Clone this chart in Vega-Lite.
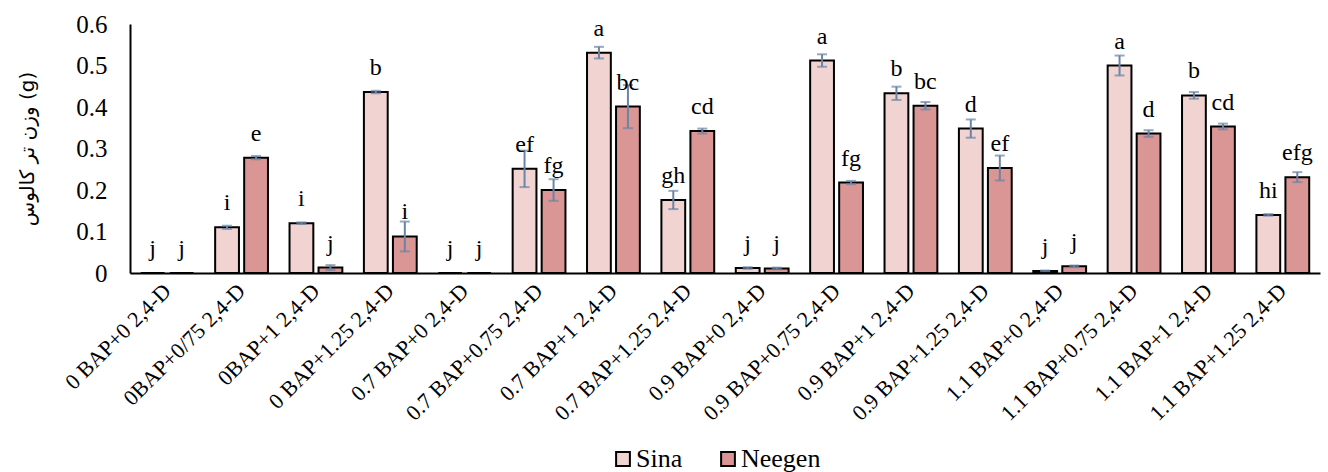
{
  "$schema": "https://vega.github.io/schema/vega-lite/v6.json",
  "width": 1190,
  "height": 249,
  "autosize": "none",
  "padding": {"left": 130, "top": 24, "right": 8, "bottom": 199},
  "background": "white",
  "config": {
    "view": {"stroke": null},
    "font": "Liberation Serif, Times New Roman, serif"
  },
  "data": {
    "values": [
      {"cat": "0 BAP+0 2,4-D", "cultivar": "Sina", "val": 0, "lo": null, "hi": null, "letter": "j"},
      {"cat": "0 BAP+0 2,4-D", "cultivar": "Neegen", "val": 0, "lo": null, "hi": null, "letter": "j"},
      {"cat": "0BAP+0/75 2,4-D", "cultivar": "Sina", "val": 0.110, "lo": 0.106, "hi": 0.114, "letter": "i"},
      {"cat": "0BAP+0/75 2,4-D", "cultivar": "Neegen", "val": 0.278, "lo": 0.274, "hi": 0.282, "letter": "e"},
      {"cat": "0BAP+1 2,4-D", "cultivar": "Sina", "val": 0.120, "lo": 0.118, "hi": 0.122, "letter": "i"},
      {"cat": "0BAP+1 2,4-D", "cultivar": "Neegen", "val": 0.013, "lo": 0.007, "hi": 0.019, "letter": "j"},
      {"cat": "0 BAP+1.25 2,4-D", "cultivar": "Sina", "val": 0.436, "lo": 0.433, "hi": 0.439, "letter": "b"},
      {"cat": "0 BAP+1.25 2,4-D", "cultivar": "Neegen", "val": 0.088, "lo": 0.052, "hi": 0.124, "letter": "i"},
      {"cat": "0.7 BAP+0 2,4-D", "cultivar": "Sina", "val": 0, "lo": null, "hi": null, "letter": "j"},
      {"cat": "0.7 BAP+0 2,4-D", "cultivar": "Neegen", "val": 0, "lo": null, "hi": null, "letter": "j"},
      {"cat": "0.7 BAP+0.75 2,4-D", "cultivar": "Sina", "val": 0.251, "lo": 0.207, "hi": 0.295, "letter": "ef"},
      {"cat": "0.7 BAP+0.75 2,4-D", "cultivar": "Neegen", "val": 0.200, "lo": 0.174, "hi": 0.226, "letter": "fg"},
      {"cat": "0.7 BAP+1 2,4-D", "cultivar": "Sina", "val": 0.531, "lo": 0.517, "hi": 0.545, "letter": "a"},
      {"cat": "0.7 BAP+1 2,4-D", "cultivar": "Neegen", "val": 0.401, "lo": 0.349, "hi": 0.453, "letter": "bc"},
      {"cat": "0.7 BAP+1.25 2,4-D", "cultivar": "Sina", "val": 0.176, "lo": 0.154, "hi": 0.198, "letter": "gh"},
      {"cat": "0.7 BAP+1.25 2,4-D", "cultivar": "Neegen", "val": 0.342, "lo": 0.336, "hi": 0.348, "letter": "cd"},
      {"cat": "0.9 BAP+0 2,4-D", "cultivar": "Sina", "val": 0.012, "lo": 0.010, "hi": 0.014, "letter": "j"},
      {"cat": "0.9 BAP+0 2,4-D", "cultivar": "Neegen", "val": 0.011, "lo": 0.009, "hi": 0.013, "letter": "j"},
      {"cat": "0.9 BAP+0.75 2,4-D", "cultivar": "Sina", "val": 0.512, "lo": 0.497, "hi": 0.527, "letter": "a"},
      {"cat": "0.9 BAP+0.75 2,4-D", "cultivar": "Neegen", "val": 0.218, "lo": 0.214, "hi": 0.222, "letter": "fg"},
      {"cat": "0.9 BAP+1 2,4-D", "cultivar": "Sina", "val": 0.433, "lo": 0.417, "hi": 0.449, "letter": "b"},
      {"cat": "0.9 BAP+1 2,4-D", "cultivar": "Neegen", "val": 0.403, "lo": 0.394, "hi": 0.412, "letter": "bc"},
      {"cat": "0.9 BAP+1.25 2,4-D", "cultivar": "Sina", "val": 0.348, "lo": 0.326, "hi": 0.370, "letter": "d"},
      {"cat": "0.9 BAP+1.25 2,4-D", "cultivar": "Neegen", "val": 0.253, "lo": 0.223, "hi": 0.283, "letter": "ef"},
      {"cat": "1.1 BAP+0 2,4-D", "cultivar": "Sina", "val": 0.005, "lo": 0.004, "hi": 0.006, "letter": "j"},
      {"cat": "1.1 BAP+0 2,4-D", "cultivar": "Neegen", "val": 0.016, "lo": 0.014, "hi": 0.018, "letter": "j"},
      {"cat": "1.1 BAP+0.75 2,4-D", "cultivar": "Sina", "val": 0.500, "lo": 0.476, "hi": 0.524, "letter": "a"},
      {"cat": "1.1 BAP+0.75 2,4-D", "cultivar": "Neegen", "val": 0.336, "lo": 0.328, "hi": 0.344, "letter": "d"},
      {"cat": "1.1 BAP+1 2,4-D", "cultivar": "Sina", "val": 0.428, "lo": 0.420, "hi": 0.436, "letter": "b"},
      {"cat": "1.1 BAP+1 2,4-D", "cultivar": "Neegen", "val": 0.353, "lo": 0.346, "hi": 0.360, "letter": "cd"},
      {"cat": "1.1 BAP+1.25 2,4-D", "cultivar": "Sina", "val": 0.140, "lo": 0.138, "hi": 0.142, "letter": "hi"},
      {"cat": "1.1 BAP+1.25 2,4-D", "cultivar": "Neegen", "val": 0.231, "lo": 0.219, "hi": 0.243, "letter": "efg"}
    ]
  },
  "encoding": {
    "x": {
      "field": "cat",
      "type": "nominal",
      "sort": null,
      "scale": {"paddingInner": 0.29, "paddingOuter": 0.145},
      "axis": {
        "title": null,
        "labelAngle": -45,
        "labelAlign": "right",
        "labelBaseline": "middle",
        "labelFont": "Liberation Serif, Times New Roman, serif",
        "labelFontSize": 22,
        "labelColor": "black",
        "labelPadding": 14,
        "labelLimit": 300,
        "ticks": false,
        "domainColor": "black",
        "domainWidth": 2,
        "zindex": 1
      }
    },
    "xOffset": {
      "field": "cultivar",
      "type": "nominal",
      "sort": ["Sina", "Neegen"],
      "scale": {"domain": ["Sina", "Neegen"], "paddingInner": 0.18}
    }
  },
  "layer": [
    {
      "mark": {"type": "bar", "stroke": "black", "strokeWidth": 2},
      "encoding": {
        "y": {
          "field": "val",
          "type": "quantitative",
          "scale": {"domain": [0, 0.6], "nice": false},
          "axis": {
            "title": "وزن تر کالوس (g)",
            "titleFont": "DejaVu Sans",
            "titleFontSize": 20,
            "titleFontWeight": "normal",
            "titleColor": "black",
            "titlePadding": 38,
            "values": [0, 0.1, 0.2, 0.3, 0.4, 0.5, 0.6],
            "format": ".1~f",
            "labelFont": "Liberation Serif, Times New Roman, serif",
            "labelFontSize": 25,
            "labelColor": "black",
            "labelPadding": 23,
            "ticks": false,
            "grid": false,
            "domainColor": "black",
            "domainWidth": 2
          }
        },
        "fill": {
          "field": "cultivar",
          "type": "nominal",
          "scale": {"domain": ["Sina", "Neegen"], "range": ["#F1D3D2", "#D99694"]},
          "legend": {
            "title": null,
            "orient": "none",
            "legendX": 480,
            "legendY": 422,
            "direction": "horizontal",
            "symbolType": "square",
            "symbolSize": 190,
            "symbolStrokeColor": "black",
            "symbolStrokeWidth": 2,
            "labelFont": "Liberation Serif, Times New Roman, serif",
            "labelFontSize": 26,
            "labelColor": "black",
            "labelOffset": 0,
            "columnPadding": 32
          }
        }
      }
    },
    {
      "mark": {"type": "rule", "color": "#6A84A6", "strokeWidth": 2},
      "encoding": {
        "y": {"field": "lo", "type": "quantitative"},
        "y2": {"field": "hi"}
      }
    },
    {
      "mark": {"type": "tick", "color": "#6A84A6", "thickness": 2, "size": 10},
      "encoding": {
        "y": {"field": "lo", "type": "quantitative"}
      }
    },
    {
      "mark": {"type": "tick", "color": "#6A84A6", "thickness": 2, "size": 10},
      "encoding": {
        "y": {"field": "hi", "type": "quantitative"}
      }
    },
    {
      "mark": {"type": "text", "baseline": "middle", "dy": -24, "fontSize": 24, "font": "Liberation Serif, Times New Roman, serif", "color": "black"},
      "encoding": {
        "y": {"field": "val", "type": "quantitative"},
        "text": {"field": "letter"}
      }
    }
  ]
}
